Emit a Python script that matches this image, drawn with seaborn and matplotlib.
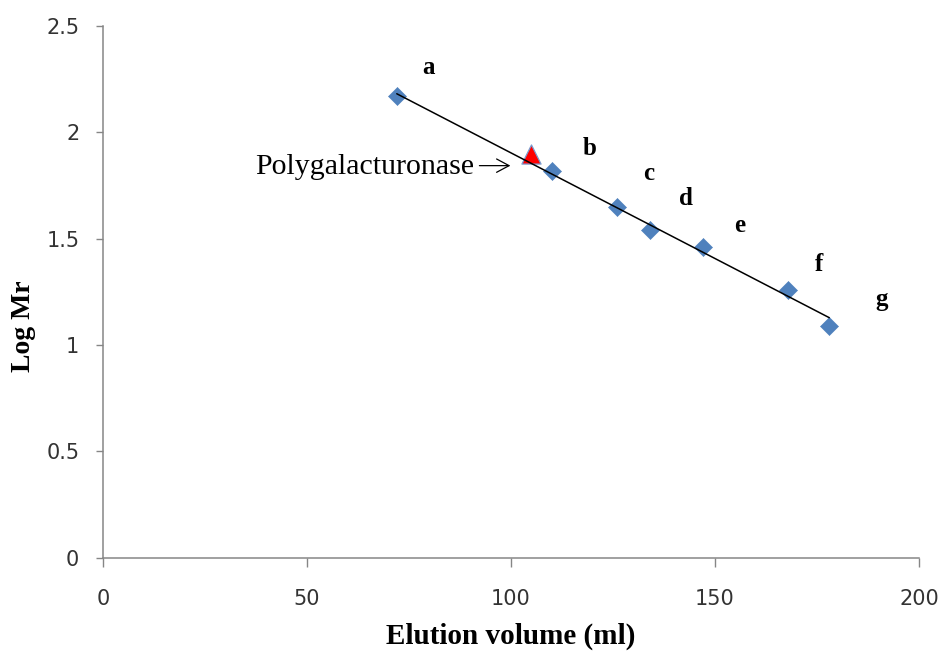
import matplotlib
matplotlib.use("Agg")
import matplotlib.pyplot as plt
from matplotlib.ticker import FuncFormatter
from matplotlib.transforms import offset_copy
import pandas as pd
import seaborn as sns

# Gel-filtration calibration standards
standard_labels = ["a", "b", "c", "d", "e", "f", "g"]
elution_volume = [72, 110, 126, 134, 147, 168, 178]
log_mr = [2.17, 1.82, 1.65, 1.54, 1.46, 1.26, 1.09]

# Purified enzyme
enzyme_name = "Polygalacturonase"
enzyme_volume = [105]
enzyme_log_mr = [1.90]

x_ticks = [0, 50, 100, 150, 200]
y_ticks = [0, 0.5, 1, 1.5, 2, 2.5]

standards = pd.DataFrame({"volume": elution_volume, "logmr": log_mr,
                          "label": standard_labels})
enzyme = pd.DataFrame({"volume": enzyme_volume, "logmr": enzyme_log_mr})

sns.set_theme(style="white")
plt.rcParams["font.family"] = ["DejaVu Sans"]
serif = ["Liberation Serif", "DejaVu Serif"]

fig = plt.figure(figsize=(9.43, 6.51), dpi=100)
ax = fig.add_axes([0.1092, 0.1433, 0.8654, 0.8167])

# least-squares calibration line through the standards
sns.regplot(data=standards, x="volume", y="logmr", scatter=False, ci=None,
            truncate=True, color="black", line_kws=dict(lw=1.1, zorder=4), ax=ax)
sns.scatterplot(data=standards, x="volume", y="logmr", marker="D", s=85,
                color="#4F81BD", edgecolor="#4F81BD", linewidth=0.4,
                zorder=3, ax=ax, legend=False)
sns.scatterplot(data=enzyme, x="volume", y="logmr", marker="^", s=190,
                color="#FF0000", edgecolor="#7A9CCF", linewidth=0.9,
                zorder=3, ax=ax, legend=False)

# letter tags beside each standard (pixel offsets from the point)
tag_offsets = [(32, 29), (38, 22), (32, 33), (36, 32), (37, 22), (31, 25), (52, 26)]
for (vx, vy, lab), (dx, dy) in zip(zip(elution_volume, log_mr, standard_labels), tag_offsets):
    ax.annotate(lab, (vx, vy), xytext=(dx, dy), textcoords="offset pixels",
                ha="center", va="center", family=serif, fontweight="bold",
                fontsize=18, color="black")

# enzyme name with a pointer arrow toward its marker
ex, ey = enzyme_volume[0], enzyme_log_mr[0]
ax.annotate(enzyme_name, (ex, ey), xytext=(-57, -13.5),
            textcoords="offset pixels", ha="right", va="center",
            family=serif, fontsize=21.5, color="black")
ax.annotate("", xy=(ex, ey), xycoords=offset_copy(ax.transData, fig=fig, x=-21, y=-12, units="dots"),
            xytext=(ex, ey), textcoords=offset_copy(ax.transData, fig=fig, x=-52, y=-12, units="dots"),
            arrowprops=dict(arrowstyle="->,head_length=0.75,head_width=0.4",
                            lw=0.9, color="black", shrinkA=0, shrinkB=0))

ax.set_xlim(0, 200)
ax.set_ylim(0, 2.5)
ax.set_xticks(x_ticks)
ax.set_yticks(y_ticks)
fmt = FuncFormatter(lambda v, _: f"{v:g}")
ax.xaxis.set_major_formatter(fmt)
ax.yaxis.set_major_formatter(fmt)

sns.despine(ax=ax)
for side in ("left", "bottom"):
    ax.spines[side].set_color("#868686")
    ax.spines[side].set_linewidth(1.1)

ax.tick_params(axis="x", bottom=True, direction="out", length=6.5, width=1.0,
               color="#868686", pad=16, labelsize=15, labelcolor="#333333")
ax.tick_params(axis="y", left=True, direction="out", length=5, width=1.0,
               color="#868686", pad=12, labelsize=15, labelcolor="#333333")

ax.set_xlabel("Elution volume (ml)", family=serif, fontweight="bold",
              fontsize=21, color="black", va="center")
ax.xaxis.set_label_coords(0.5, -0.147)
ax.set_ylabel("Log Mr", family=serif, fontweight="bold", fontsize=20,
              color="black", va="center")
ax.yaxis.set_label_coords(-0.098, 0.435)

fig.savefig("out.png", dpi=100, facecolor="white")
